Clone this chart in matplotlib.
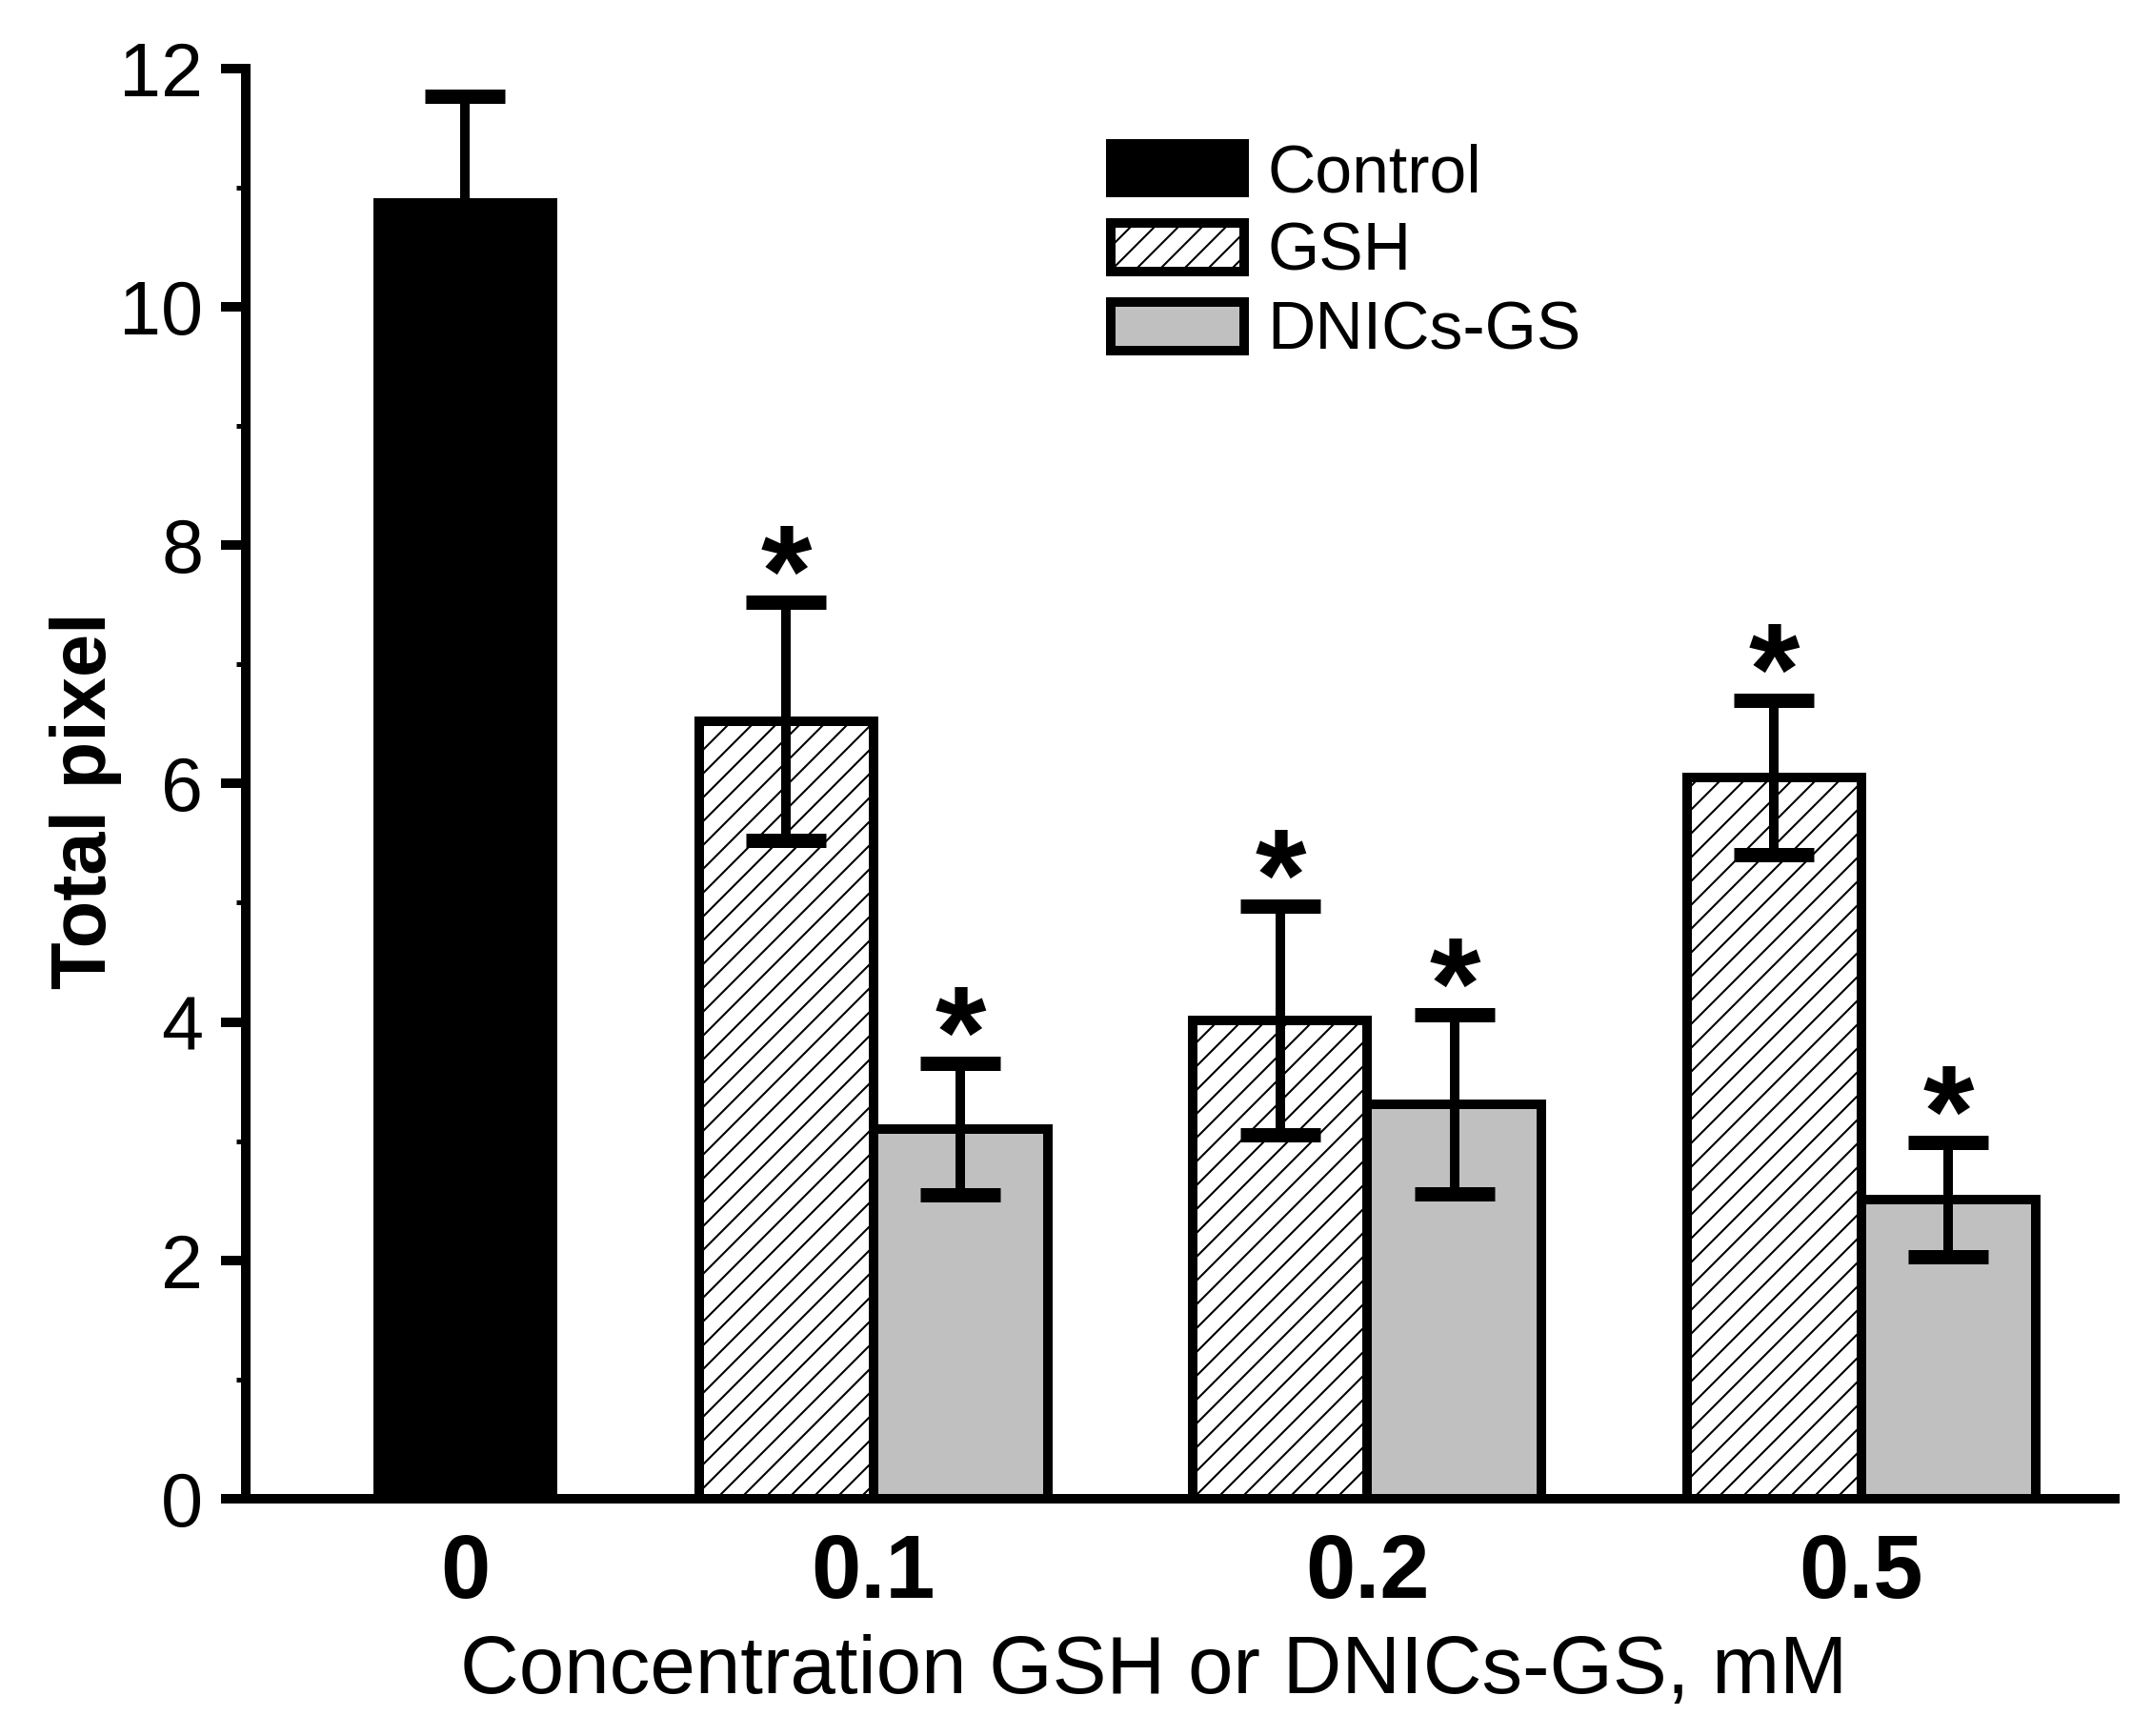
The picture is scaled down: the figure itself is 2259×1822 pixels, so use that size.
import numpy as np
import matplotlib.pyplot as plt
from matplotlib.ticker import MultipleLocator

plt.rcParams['font.family'] = ['Liberation Sans', 'DejaVu Sans']
plt.rcParams['hatch.linewidth'] = 1.0

# values
conc_labels = ['0', '0.1', '0.2', '0.5']
control_mean = [10.87]
control_err = [0.90]
gsh_mean = [6.52, 4.01, 6.05]
gsh_err = [1.00, 0.96, 0.65]
dnic_mean = [3.10, 3.31, 2.51]
dnic_err = [0.55, 0.75, 0.48]
gsh_star = [True, True, True]
dnic_star = [True, True, True]

# layout
control_pos = 0.173
group_pos = np.array([1.0, 2.0, 3.0])
bar_w = 0.353
lw = 4.8

fig = plt.figure(figsize=(2259 / 150, 1822 / 150), dpi=150)
ax = fig.add_axes([0.1142, 0.1367, 0.8685, 0.8239])

b0 = ax.bar(control_pos, control_mean, bar_w, color='black', edgecolor='black',
            linewidth=lw, zorder=2)
b1 = ax.bar(group_pos - bar_w / 2, gsh_mean, bar_w, color='white', edgecolor='black',
            hatch='//', linewidth=lw, zorder=2)
b2 = ax.bar(group_pos + bar_w / 2, dnic_mean, bar_w, color='#c0c0c0', edgecolor='black',
            linewidth=lw, zorder=2)

err_x = np.concatenate([[control_pos], group_pos - bar_w / 2, group_pos + bar_w / 2])
err_y = np.concatenate([control_mean, gsh_mean, dnic_mean])
err_e = np.concatenate([control_err, gsh_err, dnic_err])
ax.errorbar(err_x, err_y, yerr=err_e, fmt='none', ecolor='black', elinewidth=lw,
            capsize=20, capthick=7.2, zorder=3)

# significance stars
for xs, means, errs, flags in [(group_pos - bar_w / 2, gsh_mean, gsh_err, gsh_star),
                               (group_pos + bar_w / 2, dnic_mean, dnic_err, dnic_star)]:
    for x, m, e, f in zip(xs, means, errs, flags):
        if f:
            ax.annotate('*', (x, m + e), xytext=(0, -7), textcoords='offset points',
                        ha='center', va='baseline', fontsize=66, fontweight='bold')

ax.set_xlim(-0.271, 3.513)
ax.set_ylim(0, 12)
ax.yaxis.set_major_locator(MultipleLocator(2))
ax.yaxis.set_minor_locator(MultipleLocator(1))
ax.set_xticks([control_pos] + list(group_pos))
ax.set_xticklabels(conc_labels, fontsize=45, fontweight='bold')
ax.tick_params(axis='x', length=0, pad=17)
ax.tick_params(axis='y', which='major', length=12.5, width=lw, labelsize=38, pad=9)
ax.tick_params(axis='y', which='minor', length=4.8, width=2.4)

for s in ['top', 'right']:
    ax.spines[s].set_visible(False)
for s in ['left', 'bottom']:
    ax.spines[s].set_linewidth(lw)

ax.set_ylabel('Total pixel', fontsize=39, fontweight='bold')
ax.yaxis.set_label_coords(-0.066, 0.488)
ax.set_xlabel('Concentration GSH or DNICs-GS, mM', fontsize=41, va='top')
ax.xaxis.set_label_coords(0.486, -0.0946)

ax.legend([b0, b1, b2], ['Control', 'GSH', 'DNICs-GS'], loc='upper left',
          bbox_to_anchor=(1166 / 2259, 1 - 150 / 1822), bbox_transform=fig.transFigure,
          frameon=False, fontsize=33.5, handlelength=2.0, handleheight=0.75,
          handletextpad=0.35, labelspacing=0.24, borderpad=0, borderaxespad=0)

fig.savefig('out.png', dpi=150)
